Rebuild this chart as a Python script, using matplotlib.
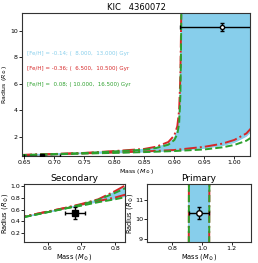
import numpy as np
import matplotlib
matplotlib.use("Agg")
import matplotlib.pyplot as plt

# stellar parameters of the two components
m1, m1_err = 0.98, 0.07
r1, r1_err = 10.3, 0.3
m2, m2_err = 0.68, 0.03
r2, r2_err = 0.54, 0.10

# isochrone mass-radius curves
mass_young = [0.50, 0.55, 0.60, 0.65, 0.70, 0.75, 0.80, 0.85, 0.90, 0.95, 0.98, 1.00, 1.02, 1.03, 1.04, 1.045, 1.048, 1.05]
rad_young_b = [0.44, 0.50, 0.56, 0.62, 0.68, 0.74, 0.79, 0.86, 0.95, 1.14, 1.34, 1.58, 2.05, 2.50, 3.60, 5.00, 8.00, 13.0]
rad_young_r = [0.45, 0.51, 0.57, 0.63, 0.69, 0.75, 0.81, 0.89, 1.00, 1.24, 1.48, 1.76, 2.25, 2.75, 3.80, 5.10, 8.10, 13.0]
rad_young_g = [0.44, 0.50, 0.56, 0.62, 0.67, 0.73, 0.78, 0.84, 0.92, 1.04, 1.20, 1.38, 1.70, 2.00, 3.00, 4.50, 7.50, 13.0]

mass_old = [0.50, 0.55, 0.60, 0.65, 0.70, 0.75, 0.80, 0.85, 0.87, 0.89, 0.90, 0.905, 0.908, 0.910, 0.911, 0.912]
rad_old_b = [0.44, 0.50, 0.56, 0.62, 0.69, 0.77, 0.90, 1.04, 1.18, 1.45, 1.85, 2.40, 3.20, 5.50, 8.50, 13.0]
rad_old_r = [0.45, 0.51, 0.57, 0.63, 0.70, 0.78, 0.92, 1.08, 1.25, 1.60, 2.10, 2.80, 4.00, 6.50, 9.50, 13.0]
rad_old_g = [0.44, 0.50, 0.56, 0.62, 0.69, 0.77, 0.89, 1.02, 1.15, 1.40, 1.75, 2.20, 3.00, 5.00, 8.00, 13.0]

labels = ["[Fe/H] = -0.14; (  8.000,  13.000) Gyr",
          "[Fe/H] = -0.36; (  6.500,  10.500) Gyr",
          "[Fe/H] =  0.08; ( 10.000,  16.500) Gyr"]
colors = ["skyblue", "tab:red", "tab:green"]


def draw_isochrones(ax):
    # shaded band between young and old isochrone
    rr = np.linspace(0.4, 13, 1500)
    ax.fill_betweenx(rr, np.interp(rr, rad_old_b, mass_old),
                     np.interp(rr, rad_young_b, mass_young),
                     color="skyblue", lw=0)
    ax.plot(mass_young, rad_young_b, color="skyblue", lw=1)
    ax.plot(mass_old, rad_old_b, color="skyblue", lw=1)
    ax.plot(mass_young, rad_young_r, color="tab:red", ls="-.", lw=1.4)
    ax.plot(mass_old, rad_old_r, color="tab:red", ls="-.", lw=1.4)
    ax.plot(mass_young, rad_young_g, color="tab:green", ls="--", lw=1.4)
    ax.plot(mass_old, rad_old_g, color="tab:green", ls="--", lw=1.4)


def draw_stars(ax, ms=3):
    ax.errorbar(m1, r1, xerr=m1_err, yerr=r1_err, fmt="o", color="k",
                mfc="white", mec="k", ms=ms, capsize=1.5, lw=1, zorder=5)
    ax.errorbar(m2, r2, xerr=m2_err, yerr=r2_err, fmt="s", color="k",
                ms=ms, capsize=1.5, lw=1, zorder=5)


fig = plt.figure(figsize=(2.58, 2.63), dpi=100)

ax = fig.add_axes([0.086, 0.407, 0.883, 0.544])
draw_isochrones(ax)
draw_stars(ax, ms=3)
ax.set_xlim(0.6467, 1.026)
ax.set_ylim(0.55, 11.34)
ax.set_xticks([0.65, 0.70, 0.75, 0.80, 0.85, 0.90, 0.95, 1.00])
ax.set_yticks([2, 4, 6, 8, 10])
ax.tick_params(labelsize=4.5, length=2, width=0.6, pad=1.2)
ax.set_xlabel(r"Mass ($M_\odot$)", fontsize=4.5, labelpad=0.8)
ax.set_ylabel(r"Radius ($R_\odot$)", fontsize=4.5, labelpad=1)
ax.set_title("KIC   4360072", fontsize=6, pad=2)
for lab, c, yy in zip(labels, colors, [0.713, 0.608, 0.497]):
    ax.text(0.02, yy, lab, color=c, fontsize=4.0, transform=ax.transAxes, va="center")

ax2 = fig.add_axes([0.094, 0.078, 0.391, 0.222])
draw_isochrones(ax2)
draw_stars(ax2, ms=4)
ax2.set_xlim(m2 - 5 * m2_err, m2 + 5 * m2_err)
ax2.set_ylim(r2 - 5 * r2_err, r2 + 5 * r2_err)
ax2.set_xticks([0.6, 0.7, 0.8])
ax2.set_yticks([0.2, 0.4, 0.6, 0.8, 1.0])
ax2.tick_params(labelsize=4.5, length=2, width=0.6, pad=0.8)
ax2.set_xlabel(r"Mass ($M_\odot$)", fontsize=4.8, labelpad=0.5)
ax2.set_ylabel(r"Radius ($R_\odot$)", fontsize=4.8)
ax2.yaxis.set_label_coords(-0.14, 0.5)
ax2.set_title("Secondary", fontsize=6.5, pad=2)

ax3 = fig.add_axes([0.570, 0.078, 0.403, 0.222])
draw_isochrones(ax3)
draw_stars(ax3, ms=4)
ax3.set_xlim(m1 - 5 * m1_err, m1 + 5 * m1_err)
ax3.set_ylim(r1 - 5 * r1_err, r1 + 5 * r1_err)
ax3.set_xticks([0.8, 1.0, 1.2])
ax3.set_yticks([9, 10, 11])
ax3.tick_params(labelsize=4.6, length=2, width=0.6, pad=0.8)
ax3.set_xlabel(r"Mass ($M_\odot$)", fontsize=4.8, labelpad=0.5)
ax3.set_ylabel(r"Radius ($R_\odot$)", fontsize=4.8, labelpad=0.3)
ax3.set_title("Primary", fontsize=6.5, pad=2)

for a in (ax, ax2, ax3):
    for s in a.spines.values():
        s.set_linewidth(0.8)
        s.set_color("#333333")

fig.savefig("out.png", dpi=100)
